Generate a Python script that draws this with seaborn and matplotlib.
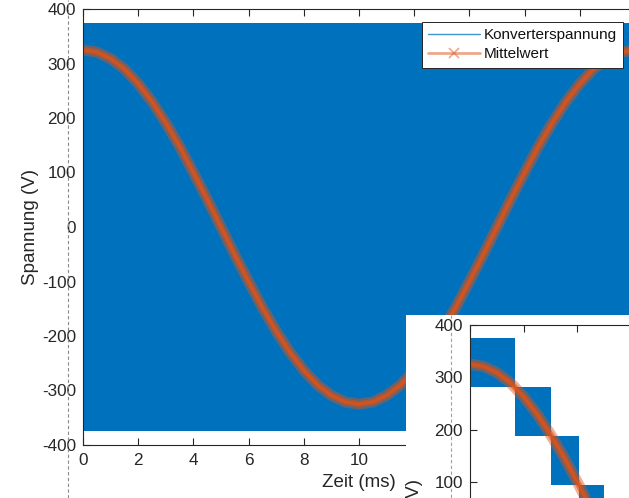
import numpy as np
import matplotlib
matplotlib.use("Agg")
import matplotlib.pyplot as plt
import seaborn as sns
from matplotlib.lines import Line2D

# ---------------- data ----------------
t_ms = [0.0, 0.5, 1.0, 1.5, 2.0, 2.5, 3.0, 3.5, 4.0, 4.5, 5.0,
        5.5, 6.0, 6.5, 7.0, 7.5, 8.0, 8.5, 9.0, 9.5, 10.0,
        10.5, 11.0, 11.5, 12.0, 12.5, 13.0, 13.5, 14.0, 14.5, 15.0,
        15.5, 16.0, 16.5, 17.0, 17.5, 18.0, 18.5, 19.0, 19.5, 20.0]
mittelwert_v = [325, 321, 309, 290, 263, 230, 191, 148, 100, 51, 0,
                -51, -100, -148, -191, -230, -263, -290, -309, -321, -325,
                -321, -309, -290, -263, -230, -191, -148, -100, -51, 0,
                51, 100, 148, 191, 230, 263, 290, 309, 321, 325]

# converter voltage envelope (dense PWM switching fills this band)
konv_t = [0.0, 20.0]
konv_min = [-375.0, -375.0]
konv_max = [375.0, 375.0]

# inset: multilevel converter, switching between adjacent levels
stufe_start = [0.0, 1.67, 3.04, 4.07]
stufe_ende = [1.67, 3.04, 4.07, 5.0]
stufe_unten = [281.25, 187.5, 93.75, 0.0]
stufe_oben = [375.0, 281.25, 187.5, 93.75]

x_ticks = [0, 2, 4, 6, 8, 10, 12, 14, 16, 18, 20]
x_ticklabels = ["0", "2", "4", "6", "8", "10", "", "", "", "", ""]
y_ticks = [-400, -300, -200, -100, 0, 100, 200, 300, 400]
y_ticklabels = ["-400", "-300", "-200", "-100", "0", "100", "200", "300", "400"]
inset_y_ticklabels = ["", "", "", "", "", "100", "200", "300", "400"]
legend_labels = ["Konverterspannung", "Mittelwert"]
x_label = "Zeit (ms)"
y_label = "Spannung (V)"

# ---------------- style ----------------
BLUE = "#0072BD"
ORANGE = "#D95319"
AXC = "#262626"
FS_TICK = 12.3
FS_LABEL = 13.5
FS_LEG = 11

sns.set_theme(style="white")
plt.rcParams["font.family"] = ["Liberation Sans", "DejaVu Sans"]
plt.rcParams["axes.unicode_minus"] = False

W, H = 629, 498
fig = plt.figure(figsize=(W / 100, H / 100), dpi=100)
fig.patch.set_facecolor("white")


def px_axes(left, top, width, height):
    return fig.add_axes([left / W, (H - top - height) / H, width / W, height / H])


def style_axes(a):
    for s in a.spines.values():
        s.set_color(AXC)
        s.set_linewidth(0.8)
        s.set_visible(True)
    a.tick_params(direction="in", length=5, width=0.8, color=AXC,
                  labelcolor=AXC, labelsize=FS_TICK, top=True, right=True,
                  bottom=True, left=True)
    a.tick_params(axis="x", pad=6)
    a.tick_params(axis="y", pad=5)
    a.set_xlim(0, 20)
    a.set_ylim(-400, 400)
    a.set_xticks(x_ticks)
    a.set_yticks(y_ticks)
    a.grid(False)


def draw_mean(a):
    sns.lineplot(x=t_ms, y=mittelwert_v, ax=a, color=ORANGE, linewidth=8.0,
                 alpha=0.45, legend=False, solid_capstyle="butt")
    sns.lineplot(x=t_ms, y=mittelwert_v, ax=a, color=ORANGE, linewidth=4.5,
                 alpha=0.6, legend=False, solid_capstyle="butt")
    sns.lineplot(x=t_ms, y=mittelwert_v, ax=a, color=ORANGE, linewidth=1.8,
                 legend=False)


# ---------------- main axes ----------------
ax = px_axes(83, 9, 552, 436)
style_axes(ax)
ax.set_xticklabels(x_ticklabels)
ax.set_yticklabels(y_ticklabels)
ax.fill_between(konv_t, konv_min, konv_max, color=BLUE, linewidth=0)
draw_mean(ax)
ax.set_xlabel(x_label, fontsize=FS_LABEL, color=AXC, labelpad=4)
ax.set_ylabel(y_label, fontsize=FS_LABEL, color=AXC, labelpad=2)

handles = [Line2D([], [], color=BLUE, linewidth=1.0, alpha=0.75),
           Line2D([], [], color=ORANGE, linewidth=2.0, alpha=0.5,
                  marker="x", markersize=7, markeredgewidth=1.2)]
leg = ax.legend(handles, legend_labels, loc="upper right",
                bbox_to_anchor=((623 - 83) / 552, (445 - 22) / 436),
                borderaxespad=0, frameon=True, fancybox=False,
                edgecolor=AXC, framealpha=1, fontsize=FS_LEG,
                handlelength=3.4, handletextpad=0.25, borderpad=0.4,
                labelspacing=0.35)
leg.get_frame().set_linewidth(0.7)
for txt in leg.get_texts():
    txt.set_color("#111111")

# dashed layout guide on the left
fig.add_artist(Line2D([67.5 / W, 67.5 / W], [0, 1], transform=fig.transFigure,
                      color="#8a8a8a", linewidth=0.8, linestyle=(0, (3, 2.2)),
                      zorder=0.5))

# ---------------- inset (overlapping second figure) ----------------
bg = px_axes(406, 315, 240, 200)
bg.set_zorder(1)
bg.set_facecolor("white")
bg.set_xticks([])
bg.set_yticks([])
for s in bg.spines.values():
    s.set_visible(False)
bg.set_xlim(406, 646)
bg.set_ylim(515, 315)
bg.plot([450.5, 450.5], [315, 515], color="#a0a0a0", linewidth=0.8,
        linestyle=(0, (3, 2.2)))

ins = px_axes(470, 325, 20 * 26.8, 800 * 0.523)
ins.set_zorder(2)
ins.set_facecolor("white")
style_axes(ins)
ins.set_xticklabels([])
ins.set_yticklabels(inset_y_ticklabels)
widths = [e - s for s, e in zip(stufe_start, stufe_ende)]
heights = [o - u for u, o in zip(stufe_unten, stufe_oben)]
ins.bar(stufe_start, heights, width=widths, bottom=stufe_unten, align="edge",
        color=BLUE, linewidth=0)
draw_mean(ins)
ins.set_xlim(0, 20)
ins.set_ylim(-400, 400)

fig.text(415 / W, (H - 479) / H, y_label, rotation=90, ha="center", va="top",
         fontsize=FS_LABEL, color=AXC, zorder=5)

fig.savefig("out.png", dpi=100)
